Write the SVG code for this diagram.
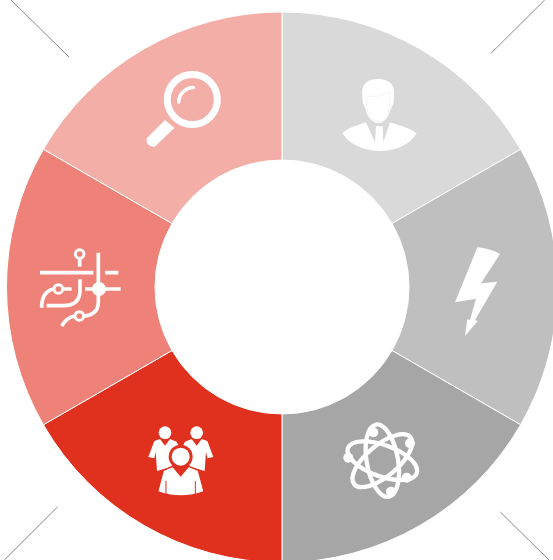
<svg xmlns="http://www.w3.org/2000/svg" width="553" height="560" viewBox="0 0 553 560">
<style>
.sec{stroke:#fff;stroke-width:1}
.w{fill:#fff}
.ln{fill:none;stroke:#fff;stroke-width:11}
.orb{fill:none;stroke:#fff;stroke-width:13}
.corner{stroke:#888;stroke-width:1;fill:none}
</style>
<rect width="553" height="560" fill="#fff"/>
<g id="connectors">
<path class="corner" d="M11 0L69 57"/>
<path class="corner" d="M491.300 53L544.700 0"/>
<path class="corner" d="M57.700 506.700L4.300 560"/>
<path class="corner" d="M500.300 512L549 560"/>
</g>
<g id="node-person">
<path class="sec" fill="#d9d9d9" d="M282 12A275.500 275.500 0 0 1 520.600 149.250L392 223.500A127 127 0 0 0 282 160Z"/>
<g transform="translate(330 65) scale(.33333)">
<path class="w" d="M97 95C92 60 110 42 145 42C180 42 197 62 192 95L190 118L182 132C178 152 165 174 145 174C125 174 110 152 106 132L99 115Z"/>
<path d="M114 93C135 96 165 92 175 80C179 95 180 110 178 128C175 150 163 170 145 170C127 170 112 150 110 128C109 115 110 100 114 93Z" fill="#fff" stroke="#e6e6e6" stroke-width="1.500"/>
<path class="w" d="M37 205C55 188 85 180 108 172L135 232L138 184H158L160 232L180 172C205 180 240 190 260 205C240 240 195 258 150 258C105 258 60 240 37 205Z"/>
</g>
</g>
<g id="node-bolt">
<path class="sec" fill="#bfbfbf" d="M520.600 149.250A275.500 275.500 0 0 1 520.600 424.750L392 350.500A127 127 0 0 0 392 223.500Z"/>
<path class="w" transform="translate(440 240) scale(.33333)" d="M112 22Q150 25 180 42L123 130L172 125L105 240L113 243L75 288L82 238L90 240L108 176L45 187Z"/>
</g>
<g id="node-atom">
<path class="sec" fill="#a6a6a6" d="M520.600 424.750A275.500 275.500 0 0 1 282 562.500L282 414A127 127 0 0 0 392 350.500Z"/>
<g transform="translate(335 415) scale(.33333)">
<ellipse class="orb" cx="142" cy="137" rx="110" ry="47" transform="rotate(20 142 137)"/>
<ellipse class="orb" cx="142" cy="137" rx="110" ry="47" transform="rotate(80 142 137)"/>
<ellipse class="orb" cx="142" cy="137" rx="110" ry="47" transform="rotate(140 142 137)"/>
<circle class="w" cx="115" cy="52" r="15"/>
<circle class="w" cx="225" cy="85" r="15"/>
<circle class="w" cx="215" cy="188" r="15"/>
<circle class="w" cx="168" cy="230" r="15"/>
<circle class="w" cx="40" cy="128" r="15"/>
</g>
</g>
<g id="node-people">
<path class="sec" fill="#e0301e" d="M282 562.500A275.500 275.500 0 0 1 43.400 424.750L172 350.500A127 127 0 0 0 282 414Z"/>
<g transform="translate(135 415) scale(.33333)">
<circle class="w" cx="90" cy="53" r="19"/>
<circle class="w" cx="185" cy="53" r="19"/>
<path class="w" d="M58 78L75 72L90 92L105 72L125 80L135 100L110 155L66 168L62 110L58 130L40 126Z"/>
<path class="w" d="M217 78L200 72L185 92L170 72L150 80L140 100L165 155L209 168L213 110L217 130L235 126Z"/>
<circle fill="#e0301e" cx="137" cy="125" r="36"/>
<circle class="w" cx="137" cy="125" r="27"/>
<path class="w" stroke="#e0301e" stroke-width="4" d="M85 166L113 154L137 182L161 154L190 166L207 230Q137 256 68 230Z"/>
<path d="M93 198V245M181 198V245" stroke="#e0301e" stroke-width="3" fill="none"/>
</g>
</g>
<g id="node-circuit">
<path class="sec" fill="#ee8278" d="M43.400 424.750A275.500 275.500 0 0 1 43.400 149.250L172 223.500A127 127 0 0 0 172 350.500Z"/>
<g transform="translate(30 240) scale(.33333)">
<circle class="ln" cx="149" cy="42" r="13" style="stroke-width:9"/>
<path class="ln" d="M149 55V80M30 98H190M225 98H265M205 38V185Q205 225 160 228M135 228Q110 232 95 258M165 147H272M150 118V150Q150 197 100 197H50M100 147H125M70 147Q35 155 35 203"/>
<circle class="ln" cx="148" cy="228" r="13" style="stroke-width:9"/>
<circle class="ln" cx="85" cy="147" r="13" style="stroke-width:9"/>
<circle class="w" cx="207" cy="147" r="21"/>
</g>
</g>
<g id="node-magnifier">
<path class="sec" fill="#f4aea8" d="M43.400 149.250A275.500 275.500 0 0 1 282 12L282 160A127 127 0 0 0 172 223.500Z"/>
<circle cx="192.300" cy="99.500" r="25" fill="none" stroke="#fff" stroke-width="7"/>
<path d="M178.700 102A15 15 0 0 1 193.300 87.500" fill="none" stroke="#fff" stroke-width="3.500" stroke-linecap="round"/>
<path class="w" d="M165 120L174.300 128L155 146.500A6.500 6.500 0 0 1 147 138Z"/>
</g>
</svg>
